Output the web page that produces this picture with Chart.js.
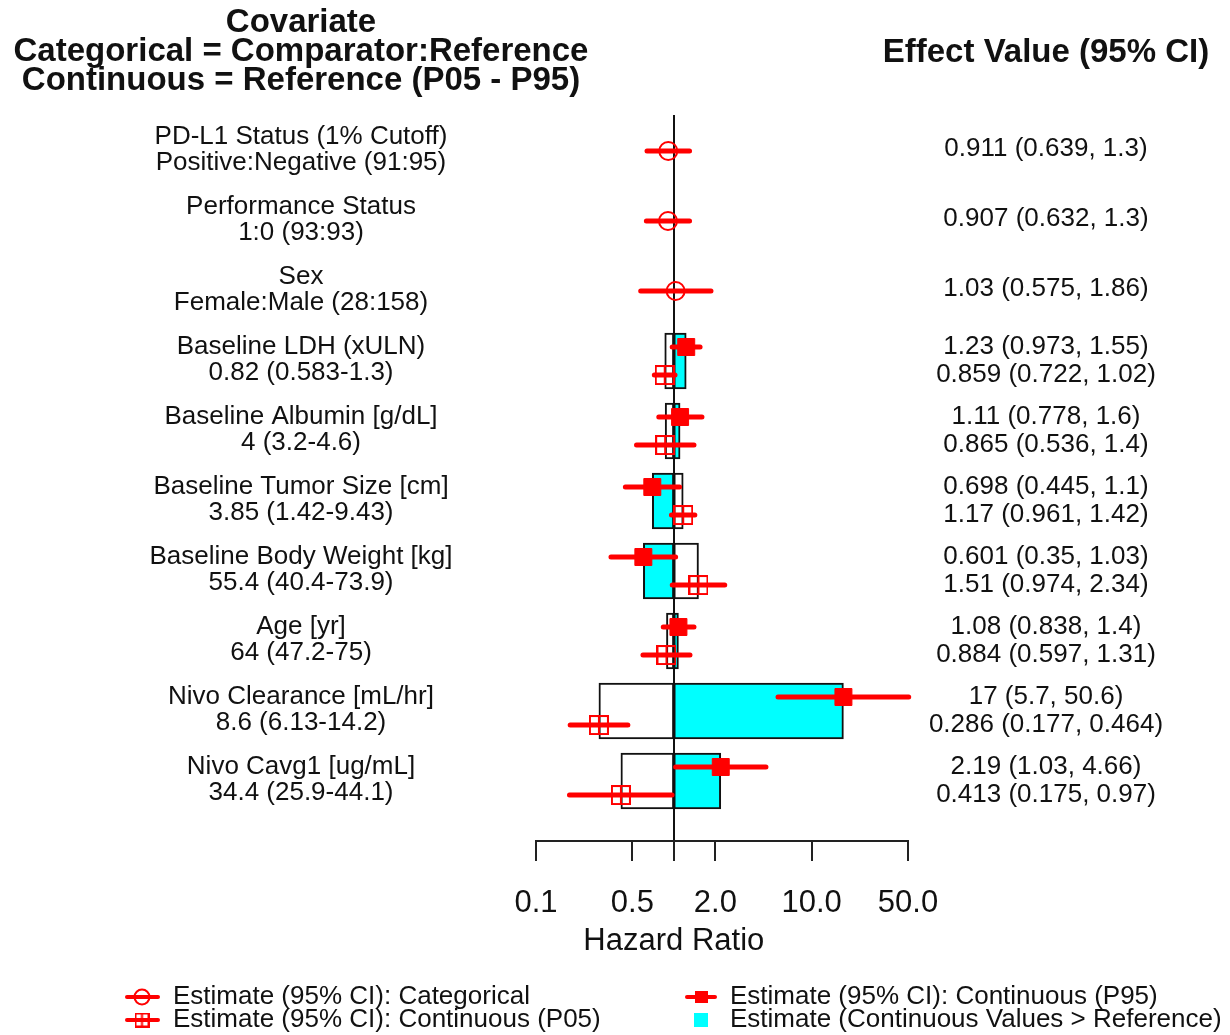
<!DOCTYPE html>
<html>
<head>
<meta charset="utf-8">
<title>Hazard ratio forest plot</title>
<script src="https://cdn.jsdelivr.net/npm/chart.js@4.4.1/dist/chart.umd.min.js"></script>
<style>
  html, body { margin: 0; padding: 0; background: #fff; }
  #wrap { position: relative; width: 1230px; height: 1035px; }
</style>
</head>
<body>
<div id="wrap"><canvas id="forest"></canvas></div>
<script>
// rows are numbered from the top: 1-3 categorical, 4-10 continuous
const covariates = [
  'PD-L1 Status (1% Cutoff)', 'Performance Status', 'Sex', 'Baseline LDH (xULN)',
  'Baseline Albumin [g/dL]', 'Baseline Tumor Size [cm]', 'Baseline Body Weight [kg]',
  'Age [yr]', 'Nivo Clearance [mL/hr]', 'Nivo Cavg1 [ug/mL]'
];
const refLabels = [
  'Positive:Negative (91:95)', '1:0 (93:93)', 'Female:Male (28:158)', '0.82 (0.583-1.3)',
  '4 (3.2-4.6)', '3.85 (1.42-9.43)', '55.4 (40.4-73.9)', '64 (47.2-75)',
  '8.6 (6.13-14.2)', '34.4 (25.9-44.1)'
];
const rows = [1, 2, 3, 4, 5, 6, 7, 8, 9, 10];

const catRows = [1, 2, 3];
const catEst = [0.911, 0.907, 1.03];
const catLow = [0.639, 0.632, 0.575];
const catHigh = [1.3, 1.3, 1.86];

const contRows = [4, 5, 6, 7, 8, 9, 10];
const p95Est = [1.23, 1.11, 0.698, 0.601, 1.08, 17, 2.19];
const p95Low = [0.973, 0.778, 0.445, 0.35, 0.838, 5.7, 1.03];
const p95High = [1.55, 1.6, 1.1, 1.03, 1.4, 50.6, 4.66];
const p05Est = [0.859, 0.865, 1.17, 1.51, 0.884, 0.286, 0.413];
const p05Low = [0.722, 0.536, 0.961, 0.974, 0.597, 0.177, 0.175];
const p05High = [1.02, 1.4, 1.42, 2.34, 1.31, 0.464, 0.97];

const xTicks = [0.1, 0.5, 1, 2, 10, 50];

const RED = '#ff0000';
const CYAN = '#00ffff';
const INK = '#111';
const FONT = '"Liberation Sans", Arial, Helvetica, sans-serif';
const SUB = 0.2;          // P95 line sits above the row centre, P05 below
const LEFT_COL = 301;
const RIGHT_COL = 1046;

// open square with a cross through it (P05 marker)
function squarePlus(size, lw) {
  const c = document.createElement('canvas');
  c.width = c.height = size;
  const g = c.getContext('2d');
  const h = lw / 2;
  g.strokeStyle = RED;
  g.lineWidth = lw;
  g.strokeRect(h, h, size - lw, size - lw);
  g.beginPath();
  g.moveTo(size / 2, h); g.lineTo(size / 2, size - h);
  g.moveTo(h, size / 2); g.lineTo(size - h, size / 2);
  g.stroke();
  return c;
}
const p05Marker = squarePlus(20, 2);
const p05LegendMarker = squarePlus(15, 2);

const fmt = (e, lo, hi) => `${e} (${lo}, ${hi})`;

function ciLine(lo, hi, y) {
  return {
    type: 'line',
    data: [{ x: lo, y: y }, { x: hi, y: y }],
    borderColor: RED,
    borderWidth: 5,
    borderCapStyle: 'round',
    pointRadius: 0,
    clip: false,
    order: 1
  };
}

const datasets = [
  {
    type: 'scatter',
    label: 'Estimate (95% CI): Categorical',
    data: catRows.map((r, i) => ({ x: catEst[i], y: r })),
    pointStyle: 'circle',
    pointRadius: 9,
    pointBorderWidth: 2,
    pointBorderColor: RED,
    pointBackgroundColor: 'rgba(0,0,0,0)',
    order: 0
  },
  {
    type: 'scatter',
    label: 'Estimate (95% CI): Continuous (P95)',
    data: contRows.map((r, i) => ({ x: p95Est[i], y: r - SUB })),
    pointStyle: 'rect',
    pointRadius: 12,
    pointBorderWidth: 1,
    pointBorderColor: RED,
    pointBackgroundColor: RED,
    order: 0
  },
  {
    type: 'scatter',
    label: 'Estimate (95% CI): Continuous (P05)',
    data: contRows.map((r, i) => ({ x: p05Est[i], y: r + SUB })),
    pointStyle: p05Marker,
    pointRadius: 10,
    order: 0
  },
  {
    type: 'bar',
    indexAxis: 'y',
    label: 'Estimate (Continuous Values > Reference)',
    data: contRows.map((r, i) => ({ y: r, x: [1, p95Est[i]] })),
    backgroundColor: CYAN,
    borderColor: INK,
    borderWidth: 2,
    borderSkipped: false,
    grouped: false,
    barPercentage: 1,
    categoryPercentage: 1,
    maxBarThickness: 56,
    order: 2
  },
  {
    type: 'bar',
    indexAxis: 'y',
    label: 'P05 range',
    data: contRows.map((r, i) => ({ y: r, x: [1, p05Est[i]] })),
    backgroundColor: '#ffffff',
    borderColor: INK,
    borderWidth: 2,
    borderSkipped: false,
    grouped: false,
    barPercentage: 1,
    categoryPercentage: 1,
    maxBarThickness: 56,
    order: 2
  }
];
catRows.forEach((r, i) => datasets.push(ciLine(catLow[i], catHigh[i], r)));
contRows.forEach((r, i) => {
  datasets.push(ciLine(p95Low[i], p95High[i], r - SUB));
  datasets.push(ciLine(p05Low[i], p05High[i], r + SUB));
});

const textPlugin = {
  id: 'forestText',
  afterDraw(chart) {
    const { ctx, scales: { x, y } } = chart;
    ctx.save();
    ctx.fillStyle = INK;
    ctx.textAlign = 'center';
    ctx.textBaseline = 'middle';

    ctx.font = 'bold 33px ' + FONT;
    ['Covariate', 'Categorical = Comparator:Reference', 'Continuous = Reference (P05 - P95)']
      .forEach((t, i) => ctx.fillText(t, LEFT_COL, 23 + i * 29));
    ctx.fillText('Effect Value (95% CI)', RIGHT_COL, 53);

    ctx.font = '26px ' + FONT;
    covariates.forEach((name, i) => {
      const py = y.getPixelForValue(rows[i]);
      ctx.fillText(name, LEFT_COL, py - 14);
      ctx.fillText(refLabels[i], LEFT_COL, py + 12);
    });
    catRows.forEach((r, i) => {
      ctx.fillText(fmt(catEst[i], catLow[i], catHigh[i]), RIGHT_COL, y.getPixelForValue(r) - 2);
    });
    contRows.forEach((r, i) => {
      ctx.fillText(fmt(p95Est[i], p95Low[i], p95High[i]), RIGHT_COL, y.getPixelForValue(r - SUB));
      ctx.fillText(fmt(p05Est[i], p05Low[i], p05High[i]), RIGHT_COL, y.getPixelForValue(r + SUB));
    });

    // axis title sits under the reference line
    ctx.font = '31px ' + FONT;
    ctx.fillText('Hazard Ratio', x.getPixelForValue(1), 941);

    // legend, two columns
    const legendLine = (x0, x1, ly) => {
      ctx.beginPath();
      ctx.strokeStyle = RED;
      ctx.lineWidth = 4;
      ctx.lineCap = 'round';
      ctx.moveTo(x0, ly); ctx.lineTo(x1, ly);
      ctx.stroke();
    };
    const r1 = 997, r2 = 1020;
    legendLine(127, 158, r1);
    ctx.beginPath();
    ctx.lineWidth = 2;
    ctx.arc(142, r1, 7.5, 0, Math.PI * 2);
    ctx.stroke();
    legendLine(127, 158, r2);
    ctx.drawImage(p05LegendMarker, 142 - 7.5, r2 - 7.5);
    legendLine(687, 715, r1);
    ctx.fillStyle = RED;
    ctx.fillRect(695, r1 - 6, 13, 12);
    ctx.fillStyle = CYAN;
    ctx.fillRect(694, r2 - 7, 14, 14);

    ctx.fillStyle = INK;
    ctx.textAlign = 'left';
    ctx.font = '26px ' + FONT;
    ctx.fillText(datasets[0].label, 173, r1);
    ctx.fillText(datasets[2].label, 173, r2);
    ctx.fillText(datasets[1].label, 730, r1);
    ctx.fillText(datasets[3].label, 730, r2);
    ctx.restore();
  }
};

new Chart(document.getElementById('forest'), {
  type: 'scatter',
  data: { datasets: datasets },
  options: {
    responsive: true,
    maintainAspectRatio: false,
    animation: false,
    events: [],
    layout: { padding: { left: 536, right: 322, top: 115, bottom: 114 } },
    plugins: { legend: { display: false }, tooltip: { enabled: false } },
    scales: {
      x: {
        type: 'logarithmic',
        position: 'bottom',
        min: 0.1,
        max: 50,
        beginAtZero: false,
        afterBuildTicks: s => { s.ticks = xTicks.map(v => ({ value: v })); },
        afterFit: s => { s.height = 80; },
        ticks: {
          autoSkip: false,
          maxRotation: 0,
          padding: 24,
          color: INK,
          font: { family: FONT, size: 31 },
          callback: v => (v === 1 ? '' : Number(v).toFixed(1))
        },
        grid: {
          drawOnChartArea: true,
          color: c => (c.tick && c.tick.value === 1 ? INK : 'rgba(0,0,0,0)'),
          lineWidth: 2,
          tickColor: '#222',
          tickLength: 20,
          tickWidth: 2
        },
        border: { display: true, color: '#222', width: 2 }
      },
      y: {
        type: 'linear',
        display: false,
        reverse: true,
        offset: false,
        min: 0.4857,
        max: 10.857,
        afterBuildTicks: s => { s.ticks = rows.map(v => ({ value: v })); },
        grid: { offset: false, display: false }
      }
    }
  },
  plugins: [textPlugin]
});
</script>
</body>
</html>
